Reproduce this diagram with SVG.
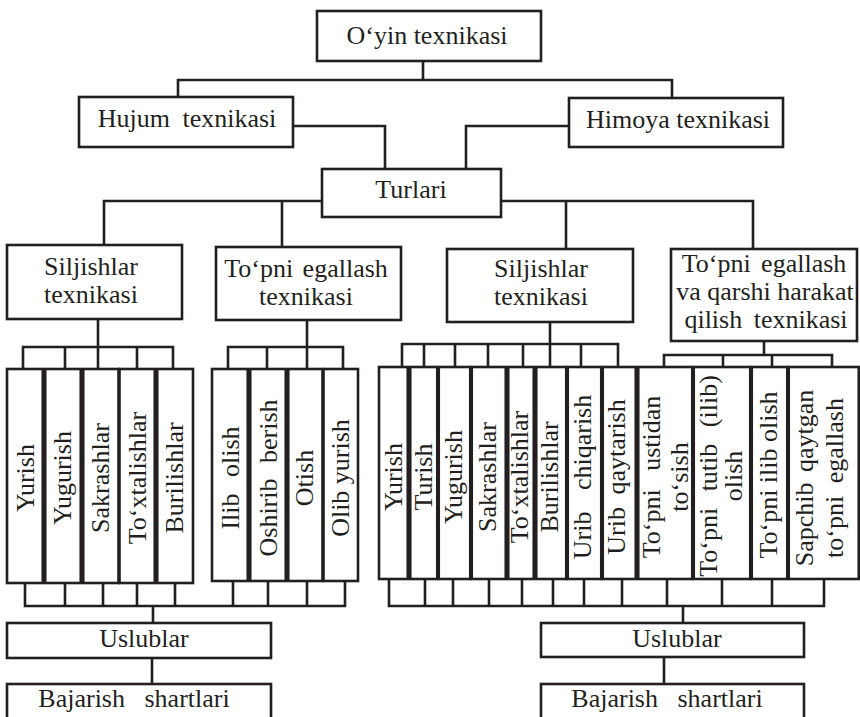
<svg xmlns="http://www.w3.org/2000/svg" width="860" height="717" viewBox="0 0 860 717" font-family="Liberation Serif, serif" font-size="26">
<style>
.b{fill:#fff;stroke:#231f20;stroke-width:2.6}
.c{fill:none;stroke:#231f20;stroke-width:2.6}
text{font-family:'Liberation Serif',serif;font-size:26px;fill:#231f20;text-anchor:middle}
</style>
<rect width="860" height="717" fill="#fff"/>
<g id="connectors" class="c">
<path d="M423 61V80M178 97V80H672V98"/>
<path d="M293 126H385V169"/>
<path d="M569 126H466V169"/>
<path d="M322 201H104V245M282 201V247"/>
<path d="M501 201H753V249M566 201V249"/>
<path d="M98 319V369M23 369V347H173V369M65 347V369M137 347V369"/>
<path d="M307 320V369M228 369V347H343V369M267 347V369"/>
<path d="M550 322V367M402 367V344H618V367M424 344V367M455 344V367M488 344V367M523 344V367M581 344V367"/>
<path d="M764 341V355M664 367V355H832V367M723 355V367M772 355V367"/>
<path d="M25 583V606H345V581M65 583V606M103 583V606M137 583V606M175 583V606M233 581V606M268 581V606M307 581V606M153 606V623M152 658V684"/>
<path d="M389 579V606H824V579M425 579V606M453 579V606M489 579V606M522 579V606M553 579V606M584 579V606M622 579V606M667 579V606M722 579V606M772 579V606M683 606V623M664 657V684"/>
</g>
<g id="n-oyin"><rect class="b" x="317" y="11" width="224" height="50"/><text x="427" y="44">O‘yin texnikasi</text></g>
<g id="n-hujum"><rect class="b" x="79" y="97" width="214" height="50"/><text x="187" y="127" word-spacing="6">Hujum texnikasi</text></g>
<g id="n-himoya"><rect class="b" x="569" y="98" width="214" height="49"/><text x="678" y="128">Himoya texnikasi</text></g>
<g id="n-turlari"><rect class="b" x="322" y="169" width="179" height="48"/><text x="411" y="198">Turlari</text></g>
<g id="n-sil-l"><rect class="b" x="7" y="245" width="175" height="74"/><text x="91" y="275">Siljishlar</text><text x="91" y="303">texnikasi</text></g>
<g id="n-top-l"><rect class="b" x="216" y="247" width="185" height="73"/><text x="306" y="277" word-spacing="3">To‘pni egallash</text><text x="306" y="305">texnikasi</text></g>
<g id="n-sil-r"><rect class="b" x="447" y="249" width="186" height="73"/><text x="541" y="277">Siljishlar</text><text x="541" y="305">texnikasi</text></g>
<g id="n-top-r"><rect class="b" x="671" y="249" width="186" height="92"/><text x="764" y="272" word-spacing="4">To‘pni egallash</text><text x="765" y="300">va qarshi harakat</text><text x="766" y="328" word-spacing="5">qilish texnikasi</text></g>
<g id="n-l1-yurish"><rect class="b" x="7" y="369" width="35.75" height="214"/><text transform="translate(34 478) rotate(-90)">Yurish</text></g>
<g id="n-l1-yugurish"><rect class="b" x="45.25" y="369" width="35.5" height="214"/><text transform="translate(71 478) rotate(-90)">Yugurish</text></g>
<g id="n-l1-sakrashlar"><rect class="b" x="83.25" y="369" width="35.25" height="214"/><text transform="translate(109 478) rotate(-90)">Sakrashlar</text></g>
<g id="n-l1-toxtalishlar"><rect class="b" x="119.5" y="369" width="35.25" height="214"/><text transform="translate(146 478) rotate(-90)">To‘xtalishlar</text></g>
<g id="n-l1-burilishlar"><rect class="b" x="157.25" y="369" width="35.75" height="214"/><text transform="translate(183 478) rotate(-90)">Burilishlar</text></g>
<g id="n-l2-ilib"><rect class="b" x="212" y="369" width="35.75" height="212"/><text transform="translate(239 478) rotate(-90)" word-spacing="10">Ilib olish</text></g>
<g id="n-l2-oshirib"><rect class="b" x="250.25" y="369" width="35.5" height="212"/><text transform="translate(277 478) rotate(-90)" word-spacing="9">Oshirib berish</text></g>
<g id="n-l2-otish"><rect class="b" x="288.25" y="369" width="34.25" height="212"/><text transform="translate(313 478) rotate(-90)">Otish</text></g>
<g id="n-l2-olib"><rect class="b" x="323.5" y="369" width="34.5" height="212"/><text transform="translate(349 478) rotate(-90)">Olib yurish</text></g>
<g id="n-r-yurish"><rect class="b" x="379" y="367" width="28.75" height="212"/><text transform="translate(401.5 477) rotate(-90)">Yurish</text></g>
<g id="n-r-turish"><rect class="b" x="410.25" y="367" width="27" height="212"/><text transform="translate(432 477) rotate(-90)">Turish</text></g>
<g id="n-r-yugurish"><rect class="b" x="438.75" y="367" width="31.5" height="212"/><text transform="translate(462 477) rotate(-90)">Yugurish</text></g>
<g id="n-r-sakrashlar"><rect class="b" x="471.75" y="367" width="34" height="212"/><text transform="translate(496 477) rotate(-90)">Sakrashlar</text></g>
<g id="n-r-toxtalishlar"><rect class="b" x="508.25" y="367" width="25.5" height="212"/><text transform="translate(528 477) rotate(-90)">To‘xtalishlar</text></g>
<g id="n-r-burilishlar"><rect class="b" x="536.25" y="367" width="30" height="212"/><text transform="translate(558 477) rotate(-90)">Burilishlar</text></g>
<g id="n-r-chiqarish"><rect class="b" x="567.75" y="367" width="33.5" height="212"/><text transform="translate(591 477) rotate(-90)" word-spacing="15">Urib chiqarish</text></g>
<g id="n-r-qaytarish"><rect class="b" x="602.75" y="367" width="33" height="212"/><text transform="translate(625 477) rotate(-90)" word-spacing="6">Urib qaytarish</text></g>
<g id="n-r-ustidan"><rect class="b" x="638.25" y="367" width="54" height="212"/><text transform="translate(660 477) rotate(-90)"><tspan x="0" y="0" word-spacing="12">To‘pni ustidan</tspan><tspan x="0" y="28">to‘sish</tspan></text></g>
<g id="n-r-tutib"><rect class="b" x="693.75" y="367" width="56.5" height="212"/><text transform="translate(717 476) rotate(-90)"><tspan x="0" y="0" word-spacing="10">To‘pni tutib (ilib)</tspan><tspan x="0" y="25">olish</tspan></text></g>
<g id="n-r-ilib"><rect class="b" x="751.75" y="367" width="35.5" height="212"/><text transform="translate(777 475) rotate(-90)">To‘pni ilib olish</text></g>
<g id="n-r-sapchib"><rect class="b" x="788.75" y="367" width="70" height="212"/><text transform="translate(813 478) rotate(-90)"><tspan x="0" y="0" word-spacing="4">Sapchib qaytgan</tspan><tspan x="0" y="30" word-spacing="6">to‘pni egallash</tspan></text></g>
<g id="n-uslub-l"><rect class="b" x="7" y="623" width="264" height="35"/><text x="144" y="647">Uslublar</text></g>
<g id="n-bajar-l"><rect class="b" x="7" y="684" width="264" height="50"/><text x="134" y="707" word-spacing="13">Bajarish shartlari</text></g>
<g id="n-uslub-r"><rect class="b" x="541" y="623" width="263" height="34"/><text x="677" y="647">Uslublar</text></g>
<g id="n-bajar-r"><rect class="b" x="541" y="684" width="263" height="50"/><text x="667" y="707" word-spacing="13">Bajarish shartlari</text></g>
</svg>
